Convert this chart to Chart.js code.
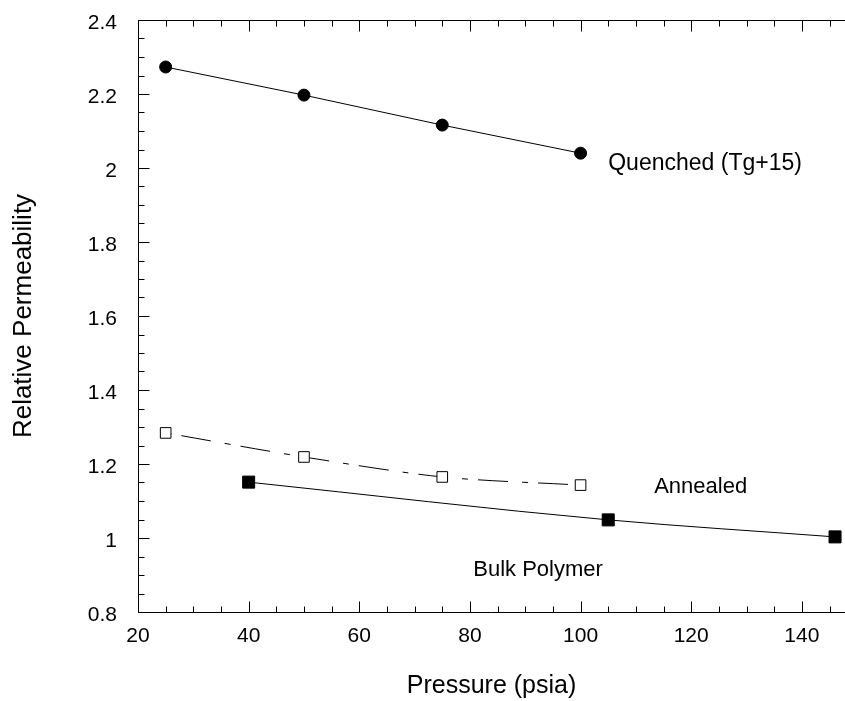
<!DOCTYPE html>
<html>
<head>
<meta charset="utf-8">
<script src="https://cdn.jsdelivr.net/npm/chart.js@4/dist/chart.umd.min.js"></script>
<style>
  html, body { margin: 0; padding: 0; background: #fff; }
  #wrap { width: 845px; height: 701px; }
</style>
</head>
<body>
<div id="wrap"><canvas id="myChart" width="845" height="701"></canvas></div>
<script>
// datos
const quenchedX = [25, 50, 75, 100];
const quenchedY = [2.273, 2.197, 2.116, 2.04];
const annealedX = [25, 50, 75, 100];
const annealedY = [1.284, 1.219, 1.165, 1.143];
const bulkX = [40, 105, 146];
const bulkY = [1.151, 1.049, 1.003];

const seriesNames = ['Quenched (Tg+15)', 'Annealed', 'Bulk Polymer'];
// posicion de las etiquetas (en unidades de datos)
const labelX = [105, 113.3, 80.6];
const labelY = [2.011, 1.138, 0.914];

const xTicks = [20, 40, 60, 80, 100, 120, 140];
const yTicks = [0.8, 1, 1.2, 1.4, 1.6, 1.8, 2, 2.2, 2.4];

const FONT = '"Liberation Sans", Arial, Helvetica, sans-serif';

function pts(xs, ys) {
  return xs.map((x, i) => ({ x: x, y: ys[i] }));
}

// ejes y marcas de escala hacia dentro
const tickMarks = {
  id: 'tickMarks',
  afterDraw(chart) {
    const ctx = chart.ctx;
    const a = chart.chartArea;
    const xs = chart.scales.x, ys = chart.scales.y;
    ctx.save();
    ctx.strokeStyle = '#000';
    ctx.lineWidth = 1;
    ctx.beginPath();
    const L = Math.round(a.left) + 0.5, T = Math.round(a.top) + 0.5, B = Math.round(a.bottom) + 0.5;
    ctx.moveTo(a.right, T); ctx.lineTo(L, T); ctx.lineTo(L, B); ctx.lineTo(a.right, B);
    for (let v = 20; v <= 147.5; v += 5) {
      const p = Math.round(xs.getPixelForValue(v)) + 0.5;
      const len = (v % 20 === 0) ? 11 : 6;
      ctx.moveTo(p, B); ctx.lineTo(p, B - len);
      ctx.moveTo(p, T); ctx.lineTo(p, T + len);
    }
    for (let i = 0; i <= 32; i++) {
      const v = 0.8 + i * 0.05;
      const p = Math.round(ys.getPixelForValue(v)) + 0.5;
      const len = (i % 4 === 0) ? 11 : 6;
      ctx.moveTo(L, p); ctx.lineTo(L + len, p);
    }
    ctx.stroke();
    // etiquetas de series
    ctx.fillStyle = '#000';
    ctx.textBaseline = 'middle';
    ctx.textAlign = 'left';
    seriesNames.forEach((t, i) => {
      ctx.font = (i === 0 ? '23px ' : '22px ') + FONT;
      ctx.fillText(t, xs.getPixelForValue(labelX[i]), ys.getPixelForValue(labelY[i]));
    });
    ctx.restore();
  }
};

const data = {
  datasets: [{
    label: seriesNames[0],
    data: pts(quenchedX, quenchedY),
    borderColor: '#000',
    borderWidth: 1,
    pointStyle: 'circle',
    pointRadius: 6,
    pointBackgroundColor: '#000',
    pointBorderColor: '#000',
    tension: 0
  }, {
    label: seriesNames[1],
    data: pts(annealedX, annealedY),
    borderColor: '#000',
    borderWidth: 1,
    borderDash: [6, 10, 30, 14],
    pointStyle: 'rect',
    pointRadius: 7.5,
    pointBorderWidth: 1,
    pointBackgroundColor: '#fff',
    pointBorderColor: '#000',
    tension: 0.3
  }, {
    label: seriesNames[2],
    data: pts(bulkX, bulkY),
    borderColor: '#000',
    borderWidth: 1,
    pointStyle: 'rect',
    pointRadius: 8.5,
    pointBackgroundColor: '#000',
    pointBorderColor: '#000',
    cubicInterpolationMode: 'monotone'
  }]
};

const config = {
  type: 'line',
  data,
  options: {
    responsive: false,
    animation: false,
    clip: false,
    layout: { autoPadding: false, padding: { left: 8, right: 0, top: 20, bottom: 0 } },
    plugins: {
      legend: { display: false },
      tooltip: { enabled: false }
    },
    scales: {
      x: {
        type: 'linear',
        min: 20,
        max: 147.8,
        afterBuildTicks(s) { s.ticks = xTicks.map(v => ({ value: v })); },
        afterFit(s) { s.height = 89; s.paddingLeft = 0; s.paddingRight = 0; },
        grid: { display: false },
        border: { display: false },
        ticks: {
          color: '#000',
          padding: 4,
          font: { family: FONT, size: 21 },
          callback: v => String(v)
        },
        title: {
          display: true,
          text: 'Pressure (psia)',
          color: '#000',
          font: { family: FONT, size: 25 },
          padding: { top: 0, bottom: 0 }
        }
      },
      y: {
        type: 'linear',
        min: 0.8,
        max: 2.4,
        afterBuildTicks(s) { s.ticks = yTicks.map(v => ({ value: v })); },
        afterFit(s) { s.width = 130; s.paddingTop = 0; s.paddingBottom = 0; },
        grid: { display: false },
        border: { display: false },
        ticks: {
          color: '#000',
          padding: 13,
          labelOffset: 3,
          font: { family: FONT, size: 21 },
          callback: v => String(Number(v.toFixed(1)))
        },
        title: {
          display: true,
          text: 'Relative Permeability',
          color: '#000',
          font: { family: FONT, size: 26 },
          padding: { top: 0, bottom: 0 }
        }
      }
    }
  },
  plugins: [tickMarks]
};

const myChart = new Chart(document.getElementById('myChart'), config);
</script>
</body>
</html>
